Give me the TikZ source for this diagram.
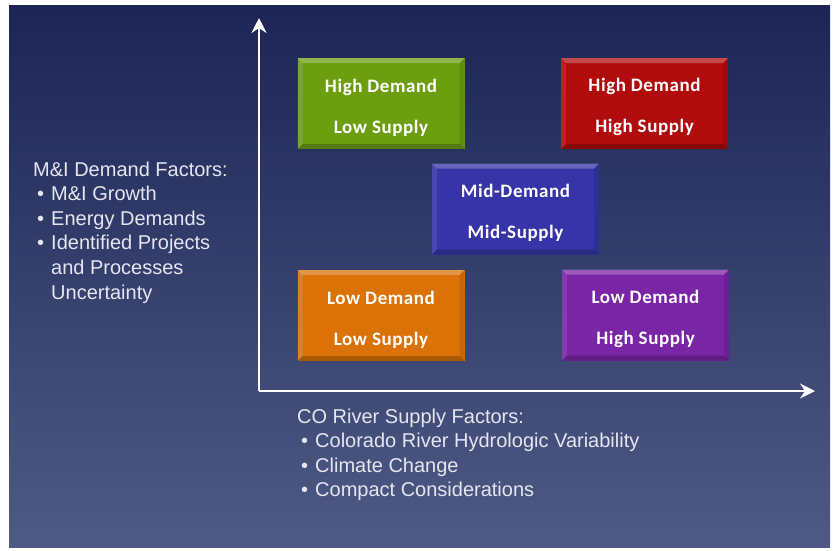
\documentclass[tikz,border=0pt]{standalone}
\usepackage{fontspec}
\setmainfont{Liberation Sans}
\newfontfamily\scenariofont{Carlito}[LetterSpace=3]
\usetikzlibrary{arrows.meta}

\definecolor{bgtop}{HTML}{1C2556}
\definecolor{bgbot}{HTML}{4E5A84}
\definecolor{labeltext}{HTML}{E4E6F0}
\definecolor{hdls}{HTML}{6C9E10}
\definecolor{hdhs}{HTML}{B00C0E}
\definecolor{mdms}{HTML}{3634A6}
\definecolor{ldls}{HTML}{DA7208}
\definecolor{ldhs}{HTML}{7A24A6}

\tikzset{
  scenario/.style={rectangle, minimum width=167pt, minimum height=91pt, inner sep=0pt,
    text=white, align=center, font=\scenariofont\bfseries\fontsize{19}{41}\selectfont,
    path picture={
      \fill[white, opacity=.25] (path picture bounding box.north west) -- (path picture bounding box.north east)
        -- ([xshift=-5pt,yshift=-5pt]path picture bounding box.north east) -- ([xshift=5pt,yshift=-5pt]path picture bounding box.north west) -- cycle;
      \fill[white, opacity=.1] (path picture bounding box.north west) -- (path picture bounding box.south west)
        -- ([xshift=5pt,yshift=5pt]path picture bounding box.south west) -- ([xshift=5pt,yshift=-5pt]path picture bounding box.north west) -- cycle;
      \fill[black, opacity=.1] (path picture bounding box.north east) -- (path picture bounding box.south east)
        -- ([xshift=-5pt,yshift=5pt]path picture bounding box.south east) -- ([xshift=-5pt,yshift=-5pt]path picture bounding box.north east) -- cycle;
      \fill[black, opacity=.22] (path picture bounding box.south west) -- (path picture bounding box.south east)
        -- ([xshift=-5pt,yshift=5pt]path picture bounding box.south east) -- ([xshift=5pt,yshift=5pt]path picture bounding box.south west) -- cycle;
    }},
  factors/.style={anchor=base west, inner sep=0pt, text=labeltext, font=\fontsize{20}{24.6}\selectfont},
  axis/.style={white, line width=2.6pt, -{Stealth[length=15pt, width=15pt, inset=5pt]}}
}

\begin{document}
\begin{tikzpicture}[x=1pt, y=-1pt]
		\useasboundingbox (0,0) rectangle (837,550);
		\fill[white] (0,0) rectangle (837,550);
		\shade[top color=bgtop, bottom color=bgbot] (9,5) rectangle (830,547);
		% axes
		\coordinate (origin) at (259,391);
		\coordinate (demandtip) at (259,18);
		\coordinate (supplytip) at (815,391);
		\draw[axis] (origin) -- (demandtip);
		\draw[axis] (origin) -- (supplytip);
		% scenario boxes
		\foreach \name/\x/\y/\col/\upper/\lower in {
			hdls/381/103.5/hdls/High Demand/Low Supply,
			hdhs/644.5/103.5/hdhs/High Demand/High Supply,
			mdms/515.5/209/mdms/Mid-Demand/Mid-Supply,
			ldls/381/315.5/ldls/Low Demand/Low Supply,
			ldhs/645.5/315/ldhs/Low Demand/High Supply}
		\node[scenario, fill=\col] (\name) at (\x,\y) {\rule{0pt}{21pt}\upper\\\lower};
		% factor lists
		\node[factors] (demand) at (33,176) {\begin{tabular}[t]{@{\hspace{4pt}}l@{\hspace{7pt}}l@{}}
			\multicolumn{2}{@{}l@{}}{M\&I Demand Factors:}\\
			• & M\&I Growth\\
			• & Energy Demands\\
			• & Identified Projects\\
			  & and Processes\\
			  & Uncertainty
		\end{tabular}};
		\node[factors] (supply) at (297,423) {\begin{tabular}[t]{@{\hspace{4pt}}l@{\hspace{7pt}}l@{}}
			\multicolumn{2}{@{}l@{}}{CO River Supply Factors:}\\
			• & Colorado River Hydrologic Variability\\
			• & Climate Change\\
			• & Compact Considerations
		\end{tabular}};
	\end{tikzpicture}
\end{document}
